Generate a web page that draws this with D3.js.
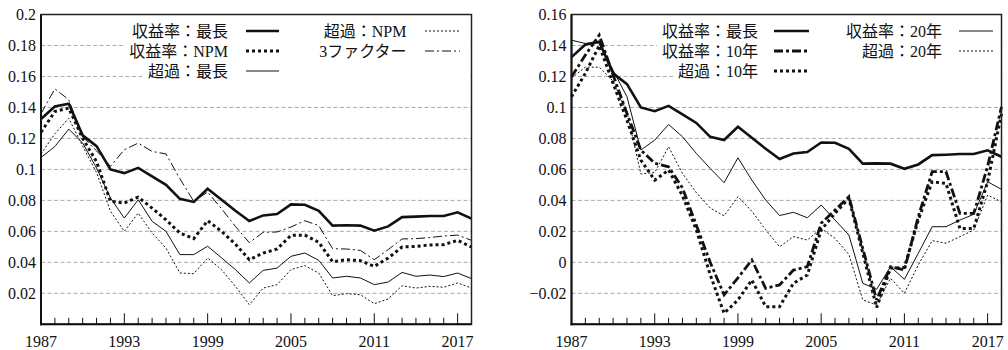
<!DOCTYPE html>
<html><head><meta charset="utf-8">
<script src="https://cdn.jsdelivr.net/npm/d3@7/dist/d3.min.js"></script>
<style>
html,body{margin:0;padding:0;background:#fff;}
svg{display:block;}
text{font-family:'Liberation Serif','Times New Roman','Noto Sans CJK JP',serif;fill:#111;}
</style></head>
<body>
<svg id="c" width="1008" height="350"></svg>
<script>
const years = d3.range(1987, 2019);
const xTickLabels = [1987, 1993, 1999, 2005, 2011, 2017];

// Left panel series
const rMax = [0.1325,0.1406,0.1424,0.122,0.115,0.100,0.0976,0.101,0.0955,0.090,
  0.081,0.079,0.0875,0.0804,0.0733,0.0667,0.0703,0.0712,0.0774,0.0772,
  0.0733,0.0637,0.0639,0.0637,0.0604,0.0632,0.0692,0.0695,0.0699,0.0699,
  0.0723,0.0682];
const rNPM = [0.124,0.1374,0.1396,0.120,0.105,0.0794,0.0783,0.0821,0.075,0.0675,
  0.0589,0.0553,0.0669,0.060,0.0518,0.0417,0.046,0.0486,0.0574,0.0576,
  0.0529,0.0404,0.0417,0.0411,0.0374,0.0428,0.0499,0.0503,0.0512,0.0514,
  0.0542,0.0499];
const eMax = [0.1077,0.1148,0.126,0.117,0.1009,0.0815,0.0686,0.0804,0.0665,0.060,
  0.045,0.045,0.0504,0.0429,0.0353,0.0267,0.0348,0.0363,0.0439,0.046,
  0.0413,0.0299,0.031,0.0299,0.0256,0.0273,0.0335,0.031,0.0318,0.0308,
  0.0331,0.0295];
const eNPM = [0.110,0.123,0.133,0.115,0.098,0.073,0.060,0.0718,0.0589,0.0492,
  0.0331,0.0327,0.0428,0.0353,0.0245,0.0127,0.0234,0.0256,0.0353,0.0379,
  0.0331,0.0185,0.0198,0.0191,0.0133,0.0164,0.0249,0.0234,0.0245,0.0239,
  0.0267,0.0234];
const f3 = [0.136,0.152,0.145,0.121,0.112,0.102,0.1127,0.117,0.1116,0.110,
  0.094,0.0794,0.0854,0.0746,0.0632,0.0527,0.0594,0.0596,0.0628,0.0669,
  0.0637,0.0488,0.0486,0.0477,0.0417,0.0482,0.0551,0.0553,0.056,0.057,
  0.0576,0.0542];

// Right panel series
const r10 = [0.1198,0.1338,0.1467,0.1209,0.0961,0.0725,0.0639,0.0617,0.048,0.024,
  0.0,-0.021,-0.010,0.0015,-0.0168,-0.0146,-0.005,-0.0028,0.0252,0.0338,
  0.0424,0.009,-0.0243,-0.0028,-0.0049,0.0295,0.0585,0.0585,0.0316,0.0316,
  0.062,0.1004];
const e10 = [0.1069,0.122,0.14,0.1155,0.0918,0.066,0.0531,0.0596,0.043,0.0209,
  -0.008,-0.0329,-0.0243,-0.0114,-0.0286,-0.0286,-0.0135,-0.0082,0.0209,0.0317,
  0.0413,0.006,-0.0292,-0.0038,-0.0033,0.0273,0.052,0.0509,0.0219,0.0219,
  0.052,0.096];
const r20 = [0.1434,0.1413,0.1417,0.124,0.1069,0.0725,0.0789,0.089,0.0811,0.0703,
  0.0606,0.0514,0.0675,0.0531,0.0402,0.0302,0.0323,0.0288,0.037,0.0273,
  0.0176,-0.0135,-0.0174,-0.0028,-0.011,0.0058,0.023,0.023,0.0273,0.031,
  0.052,0.0471];
const e20 = [0.119,0.126,0.126,0.117,0.097,0.057,0.058,0.0746,0.0574,0.045,
  0.035,0.030,0.0424,0.033,0.021,0.010,0.0166,0.0144,0.0219,0.0155,
  0.005,-0.0243,-0.0275,-0.0103,-0.020,-0.0017,0.014,0.0123,0.0166,0.0209,
  0.0434,0.0391];

const yTicksL = [0.02,0.04,0.06,0.08,0.1,0.12,0.14,0.16,0.18,0.2];
const yTicksR = [-0.02,0,0.02,0.04,0.06,0.08,0.1,0.12,0.14,0.16];

const styles = {
  thickSolid:{w:2.6,dash:null},
  thickDot:{w:3,dash:"3,3"},
  thinSolid:{w:1,dash:null},
  thinDot:{w:1,dash:"2,2"},
  thinDashDot:{w:1,dash:"9,3,2,3"},
  thickDashDot:{w:2.8,dash:"9,3,3,3"}
};

const panels = [
  {x0:41, x1:471.5, yDom:[0,0.2], ticks:yTicksL,
   series:[
     {name:"収益率：最長", data:rMax, st:"thickSolid", col:0,row:0},
     {name:"収益率：NPM", data:rNPM, st:"thickDot", col:0,row:1},
     {name:"超過：最長", data:eMax, st:"thinSolid", col:0,row:2},
     {name:"超過：NPM", data:eNPM, st:"thinDot", col:1,row:0},
     {name:"3ファクター", data:f3, st:"thinDashDot", col:1,row:1}
   ],
   legCols:[{textEnd:228, l0:246, l1:279},{textEnd:406.5, l0:425, l1:460}]},
  {x0:571.5, x1:1001.5, yDom:[-0.04,0.16], ticks:yTicksR,
   series:[
     {name:"収益率：最長", data:rMax, st:"thickSolid", col:0,row:0},
     {name:"収益率：10年", data:r10, st:"thickDashDot", col:0,row:1},
     {name:"超過：10年", data:e10, st:"thickDot", col:0,row:2},
     {name:"収益率：20年", data:r20, st:"thinSolid", col:1,row:0},
     {name:"超過：20年", data:e20, st:"thinDot", col:1,row:1}
   ],
   legCols:[{textEnd:758, l0:774, l1:809},{textEnd:942, l0:959, l1:993}]}
];

const svg = d3.select("#c");
const yTop = 14.5, yBot = 324.3;
const rowY = [31, 51, 71];
const fmt = v => (v < 0 ? "\u2212" : "") + String(+Math.abs(v).toFixed(2));

panels.forEach(p => {
  const x = d3.scaleLinear().domain([1987, 2018]).range([p.x0, p.x1]);
  const y = d3.scaleLinear().domain(p.yDom).range([yBot, yTop]);
  const g = svg.append("g");

  // gridlines
  g.selectAll(".grid").data(p.ticks.filter(t => Math.abs(t - p.yDom[1]) > 1e-9))
    .enter().append("line")
    .attr("x1", p.x0).attr("x2", p.x1)
    .attr("y1", d => y(d)).attr("y2", d => y(d))
    .attr("stroke", "#ababab").attr("stroke-width", 1).attr("stroke-dasharray", "4,2.5");

  // y tick labels
  g.selectAll(".yl").data(p.ticks).enter().append("text")
    .attr("x", p.x0 - 5).attr("y", d => y(d))
    .attr("text-anchor", "end").attr("dominant-baseline", "central")
    .attr("font-size", 16).text(fmt);

  // x tick labels
  g.selectAll(".xl").data(xTickLabels).enter().append("text")
    .attr("x", d => x(d)).attr("y", 346.5)
    .attr("text-anchor", "middle").attr("font-size", 16).text(d => d);

  // legend backgrounds + entries
  const legG = g.append("g");
  const bgG = legG.append("g");
  const rowMinX = [Infinity, Infinity, Infinity];
  p.series.forEach(s => {
    const c = p.legCols[s.col];
    const t = legG.append("text")
      .attr("x", c.textEnd).attr("y", rowY[s.row])
      .attr("text-anchor", "end").attr("dominant-baseline", "central")
      .attr("font-size", 16).text(s.name);
    const w = t.node().getComputedTextLength();
    rowMinX[s.row] = Math.min(rowMinX[s.row], c.textEnd - w);
    const st = styles[s.st];
    legG.append("line")
      .attr("x1", c.l0).attr("x2", c.l1)
      .attr("y1", rowY[s.row]).attr("y2", rowY[s.row])
      .attr("stroke", "#111").attr("stroke-width", st.w)
      .attr("stroke-dasharray", st.dash);
  });
  rowMinX.forEach((mx, i) => {
    bgG.append("rect").attr("x", mx - 5).attr("y", rowY[i] - 10)
      .attr("width", p.x1 - 1 - (mx - 5)).attr("height", 20).attr("fill", "#fff");
  });

  // data lines
  const line = d3.line().x((d, i) => x(years[i])).y(d => y(d));
  p.series.forEach(s => {
    const st = styles[s.st];
    g.append("path").datum(s.data).attr("d", line)
      .attr("fill", "none").attr("stroke", "#111")
      .attr("stroke-width", st.w).attr("stroke-dasharray", st.dash)
      .attr("stroke-linejoin", "miter").attr("stroke-miterlimit", 3);
  });

  // frame
  g.append("rect").attr("x", p.x0).attr("y", yTop)
    .attr("width", p.x1 - p.x0).attr("height", yBot - yTop)
    .attr("fill", "none").attr("stroke", "#222").attr("stroke-width", 1.5);
  g.append("line").attr("x1", p.x0).attr("x2", p.x0).attr("y1", yTop).attr("y2", yBot + 1)
    .attr("stroke", "#111").attr("stroke-width", 2);
  g.append("line").attr("x1", p.x0 - 1).attr("x2", p.x1).attr("y1", yBot).attr("y2", yBot)
    .attr("stroke", "#111").attr("stroke-width", 2);

  // x ticks (minor each year, major at labels)
  g.selectAll(".xt").data(d3.range(1988, 2018)).enter().append("line")
    .attr("x1", d => x(d)).attr("x2", d => x(d))
    .attr("y1", yBot).attr("y2", d => yBot - (xTickLabels.includes(d) ? 11 : 6.5))
    .attr("stroke", "#111").attr("stroke-width", 1);
});
</script>
</body></html>
